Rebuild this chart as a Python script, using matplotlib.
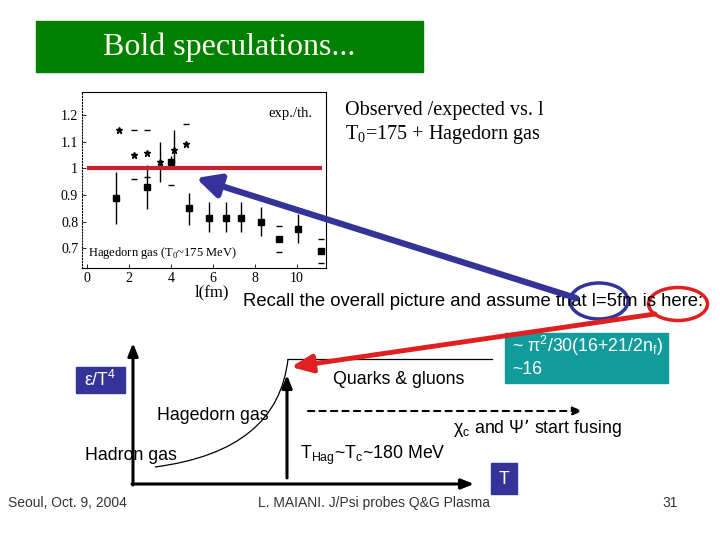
import numpy as np
import matplotlib
matplotlib.use("Agg")
import matplotlib.pyplot as plt
from matplotlib.patches import Rectangle, Ellipse, PathPatch
from matplotlib.path import Path

# inset data: observed / expected vs l (fm)
sq_x = [1.37, 2.87, 3.99, 4.88, 5.79, 6.62, 7.35, 8.28, 9.17, 10.05, 11.18]
sq_y = [0.888, 0.931, 1.025, 0.850, 0.815, 0.815, 0.815, 0.798, 0.734, 0.773, 0.690]
sq_lo = [0.790, 0.846, 1.005, 0.788, 0.760, 0.760, 0.760, 0.748, 0.734, 0.721, 0.690]
sq_hi = [0.987, 1.012, 1.045, 0.906, 0.873, 0.873, 0.873, 0.854, 0.734, 0.828, 0.690]

st_x = [1.53, 2.25, 2.84, 3.45, 4.15, 4.69]
st_y = [1.143, 1.049, 1.056, 1.025, 1.069, 1.091]
st_lo = [1.143, 1.049, 1.056, 0.950, 1.019, 1.091]
st_hi = [1.143, 1.049, 1.056, 1.100, 1.143, 1.091]

# loose error caps (drawn without bars)
cap_x = [2.25, 2.84, 2.25, 2.84, 3.99, 4.69, 9.17, 9.17, 11.18, 11.18]
cap_y = [1.143, 1.143, 0.959, 0.969, 0.937, 1.166, 0.784, 0.688, 0.734, 0.644]

x_ticks = [0, 2, 4, 6, 8, 10]
y_ticks = [1.2, 1.1, 1.0, 0.9, 0.8, 0.7]
y_labels = ["1.2", "1.1", "1", "0.9", "0.8", "0.7"]

# schematic curve eps/T^4, bezier control points (slide pixels)
curve_x = [155, 238, 281, 288]
curve_y = [467, 456, 420, 359]

SANS = "Liberation Sans"
SERIF = "Liberation Serif"
BLUE = "#333399"
RED = "#e02020"
FS = 12.8

fig = plt.figure(figsize=(7.2, 5.4), dpi=100)
fig.patch.set_facecolor("white")

# ---- inset plot
ins = fig.add_axes([82.3/720, 1-267.7/540, (326-82.3)/720, (267.7-91.7)/540])
ins.errorbar(sq_x, sq_y, yerr=[np.subtract(sq_y, sq_lo), np.subtract(sq_hi, sq_y)],
             fmt="s", color="black", ms=5, lw=1, capsize=0)
ins.errorbar(st_x, st_y, yerr=[np.subtract(st_y, st_lo), np.subtract(st_hi, st_y)],
             fmt="*", color="black", ms=4.5, lw=1, capsize=0)
ins.plot(cap_x, cap_y, "_", color="black", ms=5, mew=1)
ins.hlines(1.0, -0.03, 11.2, color="#c8232c", lw=3, zorder=5)
ins.set_xlim(-0.239, 11.40)
ins.set_ylim(0.628, 1.287)
ins.set_xticks(x_ticks)
ins.set_yticks(y_ticks)
ins.set_yticklabels(y_labels)
ins.tick_params(direction="in", labelsize=10, length=3, width=0.6, pad=3)
for lab in ins.get_xticklabels() + ins.get_yticklabels():
    lab.set_family(SERIF)
for sp in ins.spines.values():
    sp.set_linewidth(0.8)
ins.spines["left"].set_linestyle(":")
ins.text(8.63, 1.207, "exp./th.", family=SERIF, fontsize=10.5, va="center")
ins.text(0.05, 0.683, r"Hagedorn gas (T$_\mathregular{0}$~175 MeV)", family=SERIF,
         fontsize=9, va="center")

# ---- overlay in slide pixels
ax = fig.add_axes([0, 0, 1, 1])
ax.set_xlim(0, 720)
ax.set_ylim(540, 0)
ax.axis("off")
ax.patch.set_visible(False)

# title box
ax.add_patch(Rectangle((36, 21), 387, 51, color="#008000"))
ax.text(229, 47, "Bold speculations...", family=SERIF, fontsize=23,
        color="#fffff0", ha="center", va="center")

ax.text(212, 292, "l(fm)", family=SERIF, fontsize=12, ha="center", va="center")
ax.text(345, 110, "Observed /expected vs. l", family=SERIF, fontsize=14.5, va="center")
ax.text(345, 135, r"T$_\mathregular{0}$=175 + Hagedorn gas", family=SERIF,
        fontsize=14.5, va="center")
ax.text(243, 302, "Recall the overall picture and assume that l=5fm is here:",
        family=SANS, fontsize=13.3, va="center")

# ellipses and arrows
ax.add_patch(Ellipse((599, 301), 58, 36, fill=False, ec=BLUE, lw=2.5))
ax.add_patch(Ellipse((678, 304), 59, 33, fill=False, ec=RED, lw=2.5))
ax.annotate("", xy=(196, 178), xytext=(576, 298),
            arrowprops=dict(arrowstyle="-|>,head_length=0.7,head_width=0.35",
                            color=BLUE, lw=4.5, shrinkA=0, shrinkB=0, mutation_scale=20))
ax.annotate("", xy=(291, 367), xytext=(655, 314),
            arrowprops=dict(arrowstyle="-|>,head_length=0.7,head_width=0.3",
                            color=RED, lw=3.5, shrinkA=0, shrinkB=0, mutation_scale=18))

# lower schematic diagram
ax.annotate("", xy=(133, 343), xytext=(133, 485),
            arrowprops=dict(arrowstyle="-|>,head_length=0.5,head_width=0.2",
                            color="black", lw=2.2, shrinkA=0, shrinkB=0, mutation_scale=15))
ax.annotate("", xy=(474, 484), xytext=(132, 484),
            arrowprops=dict(arrowstyle="-|>,head_length=0.5,head_width=0.2",
                            color="black", lw=2.2, shrinkA=0, shrinkB=0, mutation_scale=15))
ax.annotate("", xy=(287, 375), xytext=(287, 478),
            arrowprops=dict(arrowstyle="-|>,head_length=0.5,head_width=0.2",
                            color="black", lw=2.2, shrinkA=0, shrinkB=0, mutation_scale=15))
ax.annotate("", xy=(583, 411), xytext=(308, 411),
            arrowprops=dict(arrowstyle="-|>,head_length=0.5,head_width=0.2",
                            color="black", lw=1.5, ls=(0, (3, 2.5)), shrinkA=0, shrinkB=0,
                            mutation_scale=12))
curve = Path(list(zip(curve_x, curve_y)),
             [Path.MOVETO, Path.CURVE4, Path.CURVE4, Path.CURVE4])
ax.add_patch(PathPatch(curve, fill=False, ec="black", lw=0.9))
ax.plot([288, 492], [359, 359], color="black", lw=0.9)

ax.add_patch(Rectangle((76, 367), 49, 26, color=BLUE))
ax.text(100.5, 380, r"ε/T$^\mathregular{4}$", family=SANS, fontsize=FS,
        color="white", ha="center", va="center")
ax.text(333, 380, "Quarks & gluons", family=SANS, fontsize=FS, va="center")
ax.text(157, 415, "Hagedorn gas", family=SANS, fontsize=FS, va="center")
ax.text(85, 455, "Hadron gas", family=SANS, fontsize=FS, va="center")
ax.text(300, 455, r"T$_\mathregular{Hag}$~T$_\mathregular{c}$~180 MeV", family=SANS,
        fontsize=FS, va="center")
ax.text(453, 428, r"χ$_\mathregular{c}$ and Ψ’ start fusing", family=SANS,
        fontsize=FS, va="center")

ax.add_patch(Rectangle((505, 333), 163, 50, color="#129b9b"))
ax.text(512, 346, r"~ π$^\mathregular{2}$/30(16+21/2n$_\mathregular{f}$)", family=SANS,
        fontsize=FS, color="white", va="center")
ax.text(512, 370, "~16", family=SANS, fontsize=FS, color="white", va="center")

ax.add_patch(Rectangle((491, 463), 26, 31, color=BLUE))
ax.text(504, 479, "T", family=SANS, fontsize=FS, color="white", ha="center", va="center")

# footer
ax.text(8, 503, "Seoul, Oct. 9, 2004", family=SANS, fontsize=10, color="#333333", va="center")
ax.text(258, 503, "L. MAIANI. J/Psi probes Q&G Plasma", family=SANS, fontsize=10,
        color="#333333", va="center")
ax.text(670, 503, "31", family=SANS, fontsize=10, color="#333333", va="center", ha="center")

fig.savefig("out.png", dpi=100)
